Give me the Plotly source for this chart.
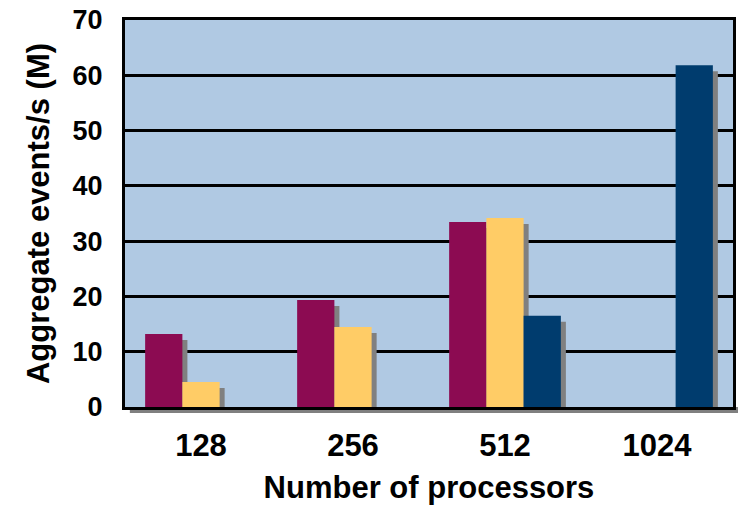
import plotly.graph_objects as go

# Aggregate event throughput by processor count
processors = ["128", "256", "512", "1024"]
maroon_vals = [13.2, 19.35, 33.45, None]
gold_vals = [4.5, 14.45, 34.2, None]
navy_vals = [None, None, 16.5, 61.8]
y_ticks = [0, 10, 20, 30, 40, 50, 60, 70]

series = [
    (maroon_vals, "#8C0B52"),
    (gold_vals, "#FFCC66"),
    (navy_vals, "#003C6E"),
]

BAR_W = 0.245
SHADOW_DX = 0.033   # drop-shadow shift in category units
SHADOW_DY = 1.08    # drop-shadow shift in value units

fig = go.Figure()

# drop shadows first, so the coloured bars sit on top of them
for k, (vals, _) in enumerate(series):
    off = -1.5 * BAR_W + k * BAR_W
    fig.add_trace(go.Bar(
        x=processors, y=vals, base=-SHADOW_DY,
        offset=off + SHADOW_DX, width=BAR_W,
        marker=dict(color="#808080", line=dict(width=0)),
        hoverinfo="skip", showlegend=False,
    ))

for k, (vals, color) in enumerate(series):
    off = -1.5 * BAR_W + k * BAR_W
    fig.add_trace(go.Bar(
        x=processors, y=vals,
        offset=off, width=BAR_W,
        marker=dict(color=color, line=dict(width=0)),
        showlegend=False,
    ))

font_bold = dict(family="Liberation Sans, Arial, sans-serif", color="black", weight="bold")

fig.update_layout(
    width=738, height=505,
    margin=dict(l=125, r=2, t=20, b=98),
    barmode="overlay",
    paper_bgcolor="white",
    plot_bgcolor="#B0C9E3",
    showlegend=False,
    shapes=[dict(
        type="rect", xref="paper", yref="paper",
        x0=0.008, x1=1.01, y0=-0.0155, y1=0,
        fillcolor="#808080", line=dict(width=0), layer="below",
    )],
    xaxis=dict(
        type="category", range=[-0.5, 3.5],
        showgrid=False, zeroline=False,
        showline=True, linecolor="black", linewidth=3, mirror=True,
        ticks="", ticklabelstandoff=9,
        tickfont=dict(size=31, **font_bold),
        title=dict(text="Number of processors", font=dict(size=31, **font_bold), standoff=15),
    ),
    yaxis=dict(
        range=[0, 70], tickvals=y_ticks,
        showgrid=True, gridcolor="black", gridwidth=2.5,
        zeroline=False,
        showline=True, linecolor="black", linewidth=3, mirror=True,
        ticks="", ticklabelstandoff=14,
        tickfont=dict(size=27, **font_bold),
        title=dict(text="Aggregate events/s (M)", font=dict(size=31, **font_bold), standoff=14),
    ),
)

fig.write_html("out.html")
